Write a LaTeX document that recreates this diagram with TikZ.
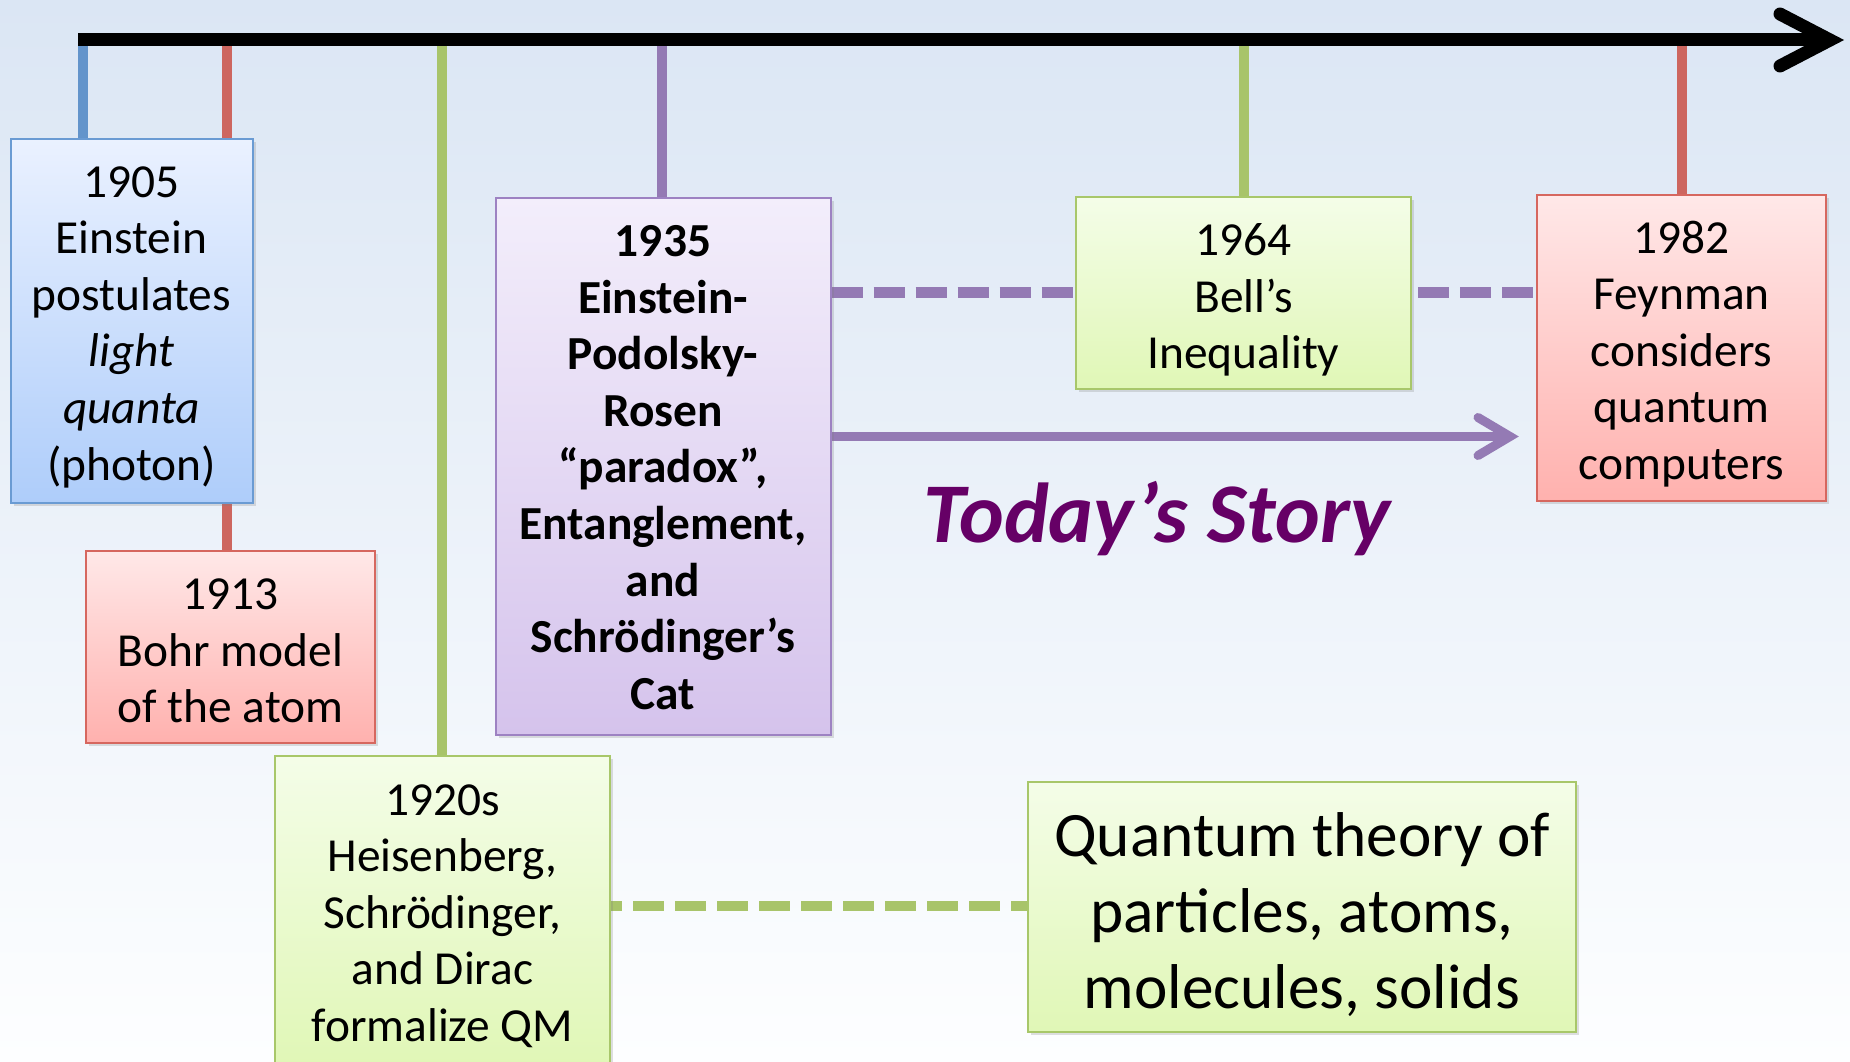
\documentclass[tikz,border=0pt]{standalone}
\usepackage{fontspec}
\setmainfont{Carlito}
\usetikzlibrary{shadows,calc}
\pgfdeclarelayer{bg}
\pgfdeclarelayer{conn}
\pgfsetlayers{bg,conn,main}
\definecolor{bgtop}{RGB}{219,230,244}
\definecolor{bgbot}{RGB}{253,254,255}
\definecolor{stemblue}{RGB}{99,148,203}
\definecolor{stemred}{RGB}{205,102,95}
\definecolor{stemgreen}{RGB}{168,196,106}
\definecolor{stempurple}{RGB}{148,122,180}
\definecolor{bluebd}{RGB}{106,155,211}
\definecolor{bluetop}{RGB}{234,241,255}
\definecolor{bluebot}{RGB}{174,205,250}
\definecolor{redbd}{RGB}{214,103,95}
\definecolor{redtop}{RGB}{255,232,232}
\definecolor{redbot}{RGB}{255,177,174}
\definecolor{greenbd}{RGB}{168,199,106}
\definecolor{greentop}{RGB}{244,253,232}
\definecolor{greenbot}{RGB}{224,247,182}
\definecolor{purplebd}{RGB}{157,130,194}
\definecolor{purpletop}{RGB}{243,238,251}
\definecolor{purplebot}{RGB}{213,195,236}
\definecolor{story}{RGB}{102,0,102}
\begin{document}
\begin{tikzpicture}[x=1pt,y=-1pt,
  evbox/.style={draw, line width=2pt, inner sep=0pt,
    drop shadow={shadow xshift=3pt,shadow yshift=-3pt,opacity=0.25}},
  bluebox/.style={evbox, draw=bluebd, top color=bluetop, bottom color=bluebot},
  redbox/.style={evbox, draw=redbd, top color=redtop, bottom color=redbot},
  greenbox/.style={evbox, draw=greenbd, top color=greentop, bottom color=greenbot},
  purplebox/.style={evbox, draw=purplebd, top color=purpletop, bottom color=purplebot},
  evtext/.style={inner sep=0pt, align=center, font=\fontsize{47.4}{56.6}\selectfont},
  stemline/.style={line width=10pt},
  timeline/.style={line width=13pt, black, line cap=butt},
  chevron/.style={line width=13pt, black, line cap=round, line join=miter},
  dashline/.style={line width=11pt, dash pattern=on 31pt off 11pt},
  storyarrow/.style={line width=9pt, stempurple},
  storychev/.style={line width=9pt, stempurple, line cap=round, line join=miter}
]
\useasboundingbox (0,0) rectangle (1850,1062);
\begin{pgfonlayer}{bg}
\shade[top color=bgtop, bottom color=bgbot] (0,0) rectangle (1850,1062);
\end{pgfonlayer}

% boxes
\node[bluebox, minimum width=242pt, minimum height=364pt] (b1905) at (131.5,321) {};
\node[redbox, minimum width=289pt, minimum height=192pt] (b1913) at (230.5,647) {};
\node[greenbox, minimum width=335pt, minimum height=312pt] (b1920) at (442.5,912) {};
\node[purplebox, minimum width=335pt, minimum height=537pt] (b1935) at (663,466.5) {};
\node[greenbox, minimum width=335pt, minimum height=192pt] (b1964) at (1243.5,293) {};
\node[redbox, minimum width=289pt, minimum height=306pt] (b1982) at (1681.5,348) {};
\node[greenbox, minimum width=548pt, minimum height=250pt] (bqt) at (1302,907) {};

% texts
\node[evtext, yshift=-6pt] (t1905) at (b1905.center)
  {1905\\Einstein\\postulates\\\itshape light\\\itshape quanta\\(photon)};
\node[evtext, yshift=-4pt] (t1913) at (b1913.center)
  {1913\\Bohr model\\of the atom};
\node[evtext, yshift=-4pt] (t1920) at (b1920.center)
  {1920s\\Heisenberg,\\Schrödinger,\\and Dirac\\formalize QM};
\node[evtext, yshift=-1pt, font=\fontsize{47.4}{56.6}\selectfont\bfseries] (t1935) at (b1935.center)
  {1935\\Einstein-\\Podolsky-\\Rosen\\“paradox”,\\Entanglement,\\and\\Schrödinger’s\\Cat};
\node[evtext, yshift=-7pt] (t1964) at (b1964.center)
  {1964\\Bell’s\\Inequality};
\node[evtext, yshift=-6pt] (t1982) at (b1982.center)
  {1982\\Feynman\\considers\\quantum\\computers};
\node[evtext, yshift=-8pt, font=\fontsize{63.3}{76}\selectfont] (tqt) at (bqt.center)
  {Quantum theory of\\particles, atoms,\\molecules, solids};
\node[text=story, font=\fontsize{85}{100}\selectfont\bfseries\itshape] (story) at (1157,519) {Today’s Story};

% coordinates
\coordinate (tstart) at (78,40);
\coordinate (tend) at (1830,40);
\coordinate (s1) at (83,34);
\coordinate (s2) at (227,34);
\coordinate (s3) at (442,34);
\coordinate (s4) at (662,34);
\coordinate (s5) at (1244,34);
\coordinate (s6) at (1682,34);
\coordinate (dy) at (0,292.6);
\coordinate (ay) at (0,436.5);
\coordinate (atip) at (1510,436.5);
\coordinate (gy) at (0,905.7);

\begin{pgfonlayer}{conn}
% stems
\draw[stemline, stemblue] (s1) -- (s1 |- b1905.north);
\draw[stemline, stemred] (s2) -- (s2 |- b1913.north);
\draw[stemline, stemgreen] (s3) -- (s3 |- b1920.north);
\draw[stemline, stempurple] (s4) -- (s4 |- b1935.north);
\draw[stemline, stemgreen] (s5) -- (s5 |- b1964.north);
\draw[stemline, stemred] (s6) -- (s6 |- b1982.north);
% timeline
\draw[timeline] (tstart) -- (tend);
\draw[chevron] ($(tend)+(-50,-26)$) -- (tend) -- ($(tend)+(-50,26)$);
% dashed links
\draw[dashline, stempurple] (b1935.east |- dy) -- (b1964.west |- dy);
\draw[dashline, stempurple, dash phase=36pt] (b1964.east |- dy) -- (b1982.west |- dy);
\draw[dashline, stemgreen, line width=10pt, dash phase=20pt] (b1920.east |- gy) -- (bqt.west |- gy);
% story arrow
\draw[storyarrow] (b1935.east |- ay) -- (atip);
\draw[storychev] ($(atip)+(-32,-19)$) -- (atip) -- ($(atip)+(-32,19)$);
\end{pgfonlayer}
\end{tikzpicture}
\end{document}
